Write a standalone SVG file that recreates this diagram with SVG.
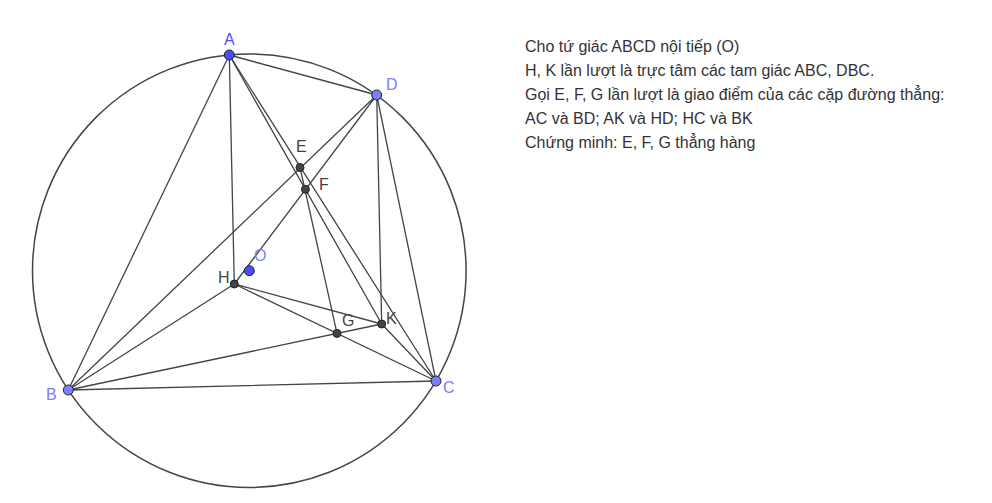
<svg xmlns="http://www.w3.org/2000/svg" width="992" height="503" viewBox="0 0 992 503">
<style>
.ln{stroke:#444;stroke-width:1.3;fill:none;stroke-linecap:round}
.circ{stroke:#444;stroke-width:1.5;fill:none}
.fp{fill:#4d4dff;stroke:#222;stroke-width:1}
.lp{fill:#7d7dff;stroke:#222;stroke-width:1}
.ip{fill:#444;stroke:#222;stroke-width:1}
.lab{font-family:"Liberation Sans",Arial,sans-serif;font-size:16px}
.lb1{fill:#4d4dff}
.lb2{fill:#7d7dff}
.lb3{fill:#444}
.txt{font-family:"Liberation Sans",Arial,sans-serif;font-size:16px;fill:#333}
</style>
<rect width="992" height="503" fill="#fff"/>
<g id="circle-O"><circle class="circ" cx="249.3" cy="270.7" r="216.8"/></g>
<g id="connectors">
<line class="ln" x1="229.3" y1="55" x2="68.3" y2="390"/>
<line class="ln" x1="229.3" y1="55" x2="376.7" y2="95"/>
<line class="ln" x1="229.3" y1="55" x2="436" y2="381"/>
<line class="ln" x1="229.3" y1="55" x2="381.7" y2="324"/>
<line class="ln" x1="229.3" y1="55" x2="234.3" y2="284"/>
<line class="ln" x1="68.3" y1="390" x2="376.7" y2="95"/>
<line class="ln" x1="68.3" y1="390" x2="234.3" y2="284"/>
<line class="ln" x1="68.3" y1="390" x2="381.7" y2="324"/>
<line class="ln" x1="68.3" y1="390" x2="436" y2="381"/>
<line class="ln" x1="376.7" y1="95" x2="234.3" y2="284"/>
<line class="ln" x1="376.7" y1="95" x2="381.7" y2="324"/>
<line class="ln" x1="376.7" y1="95" x2="436" y2="381"/>
<line class="ln" x1="234.3" y1="284" x2="381.7" y2="324"/>
<line class="ln" x1="234.3" y1="284" x2="436" y2="381"/>
<line class="ln" x1="381.7" y1="324" x2="436" y2="381"/>
<line class="ln" x1="300" y1="167.5" x2="337" y2="333.4"/>
</g>
<g id="E"><circle class="ip" cx="300" cy="167.5" r="4"/><text class="lab lb3" x="296" y="152">E</text></g>
<g id="F"><circle class="ip" cx="305.4" cy="189.3" r="4"/><text class="lab lb3" x="319" y="190">F</text></g>
<g id="H"><circle class="ip" cx="234.3" cy="284" r="4"/><text class="lab lb3" x="218" y="283">H</text></g>
<g id="G"><circle class="ip" cx="337" cy="333.4" r="4"/><text class="lab lb3" x="342" y="326">G</text></g>
<g id="K"><circle class="ip" cx="381.7" cy="324" r="4"/><text class="lab lb3" x="386" y="324">K</text></g>
<g id="O"><circle class="fp" cx="249.3" cy="270.7" r="5"/><text class="lab lb2" x="254" y="261">O</text></g>
<g id="A"><circle class="fp" cx="229.3" cy="55" r="5"/><text class="lab lb1" x="224" y="45">A</text></g>
<g id="B"><circle class="lp" cx="68.3" cy="390" r="5"/><text class="lab lb2" x="46" y="400">B</text></g>
<g id="C"><circle class="lp" cx="436" cy="381" r="5"/><text class="lab lb2" x="443" y="393">C</text></g>
<g id="D"><circle class="lp" cx="376.7" cy="95" r="5"/><text class="lab lb2" x="386" y="90">D</text></g>
<g id="statement">
<text class="txt" x="525" y="52">Cho tứ giác ABCD nội tiếp (O)</text>
<text class="txt" x="525" y="76">H, K lần lượt là trực tâm các tam giác ABC, DBC.</text>
<text class="txt" x="525" y="100">Gọi E, F, G lần lượt là giao điểm của các cặp đường thẳng:</text>
<text class="txt" x="525" y="124">AC và BD; AK và HD; HC và BK</text>
<text class="txt" x="525" y="148">Chứng minh: E, F, G thẳng hàng</text>
</g>
</svg>
